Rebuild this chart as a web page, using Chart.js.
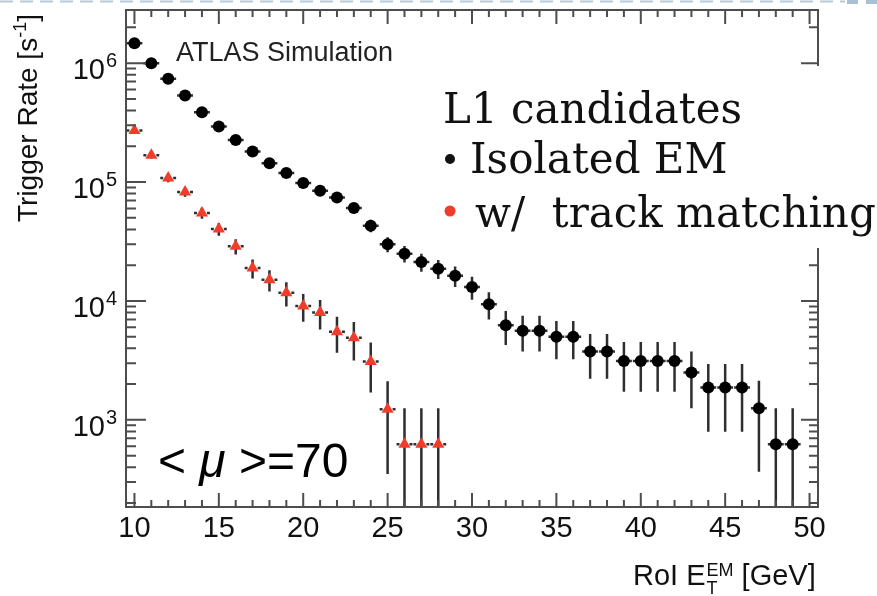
<!DOCTYPE html>
<html>
<head>
<meta charset="utf-8">
<script src="https://cdn.jsdelivr.net/npm/chart.js@4"></script>
<style>
  html, body { margin: 0; padding: 0; background: #fff; }
  canvas { display: block; }
</style>
</head>
<body>
<canvas id="chart" width="877" height="596"></canvas>
<script>
// bin centres (RoI E_T^EM, GeV)
const binCenters = [10, 11, 12, 13, 14, 15, 16, 17, 18, 19,
  20, 21, 22, 23, 24, 25, 26, 27, 28, 29,
  30, 31, 32, 33, 34, 35, 36, 37, 38, 39,
  40, 41, 42, 43, 44, 45, 46, 47, 48, 49];

// Isolated EM (black circles), rate in Hz
const isoEM = [1470000, 1000000, 740000, 535000, 387000, 293000, 226000, 181000, 144000, 119000,
  98000, 84600, 74000, 60500, 43000, 30000, 25000, 21300, 18700, 16300,
  13100, 9400, 6250, 5625, 5625, 5000, 5000, 3750, 3750, 3125,
  3125, 3125, 3125, 2500, 1875, 1875, 1875, 1250, 625, 625];
const isoEMErr = [30300, 25000, 21500, 18300, 15550, 13530, 11900, 10600, 9490, 8620,
  7830, 7270, 6800, 6150, 5180, 4330, 3950, 3650, 3420, 3190,
  2860, 2420, 1980, 1875, 1875, 1770, 1770, 1530, 1530, 1400,
  1400, 1400, 1400, 1250, 1080, 1080, 1080, 884, 625, 625];

// w/ track matching (red triangles), bins 10..28
const trackMatch = [272000, 168000, 108000, 82500, 55000, 40300, 28800, 18900, 15100, 11700,
  9080, 7980, 5520, 4900, 3090, 1230, 625, 625, 625];
const trackMatchErr = [13000, 10250, 8220, 7180, 5860, 5020, 4240, 3440, 3070, 2700,
  2380, 2230, 1860, 1750, 1390, 880, 625, 625, 625];

// axis ticks
const xMajorTicks = [10, 15, 20, 25, 30, 35, 40, 45, 50];
const yDecades = [3, 4, 5, 6];

const red = '#f03c2a';
const sans = '"Liberation Sans", Arial, sans-serif';

// error bars drawn under the markers
const errorBars = {
  id: 'errorBars',
  beforeDatasetsDraw(chart) {
    const ctx = chart.ctx, xs = chart.scales.x, ys = chart.scales.y, area = chart.chartArea;
    ctx.save();
    ctx.beginPath();
    ctx.rect(area.left, area.top, area.width, area.height);
    ctx.clip();
    ctx.strokeStyle = '#2e2e2e';
    ctx.lineWidth = 2.5;
    chart.data.datasets.forEach(ds => {
      const gap = ds.barGap;
      ds.data.forEach((p, i) => {
        const e = ds.errs[i];
        const px = xs.getPixelForValue(p.x);
        const hi = ys.getPixelForValue(p.y + e);
        const lo = p.y - e > 0 ? ys.getPixelForValue(p.y - e) : area.bottom;
        const py = ys.getPixelForValue(p.y);
        const xl = xs.getPixelForValue(p.x - 0.5);
        const xr = xs.getPixelForValue(p.x + 0.5);
        ctx.beginPath();
        ctx.moveTo(px, hi); ctx.lineTo(px, lo);
        ctx.moveTo(xl + 0.5, py); ctx.lineTo(px - gap, py);
        ctx.moveTo(px + gap, py); ctx.lineTo(xr - 0.5, py);
        ctx.stroke();
      });
    });
    ctx.restore();
  }
};

// frame, ticks, labels and the text annotations
const decor = {
  id: 'decor',
  afterDraw(chart) {
    const ctx = chart.ctx, xs = chart.scales.x, ys = chart.scales.y, a = chart.chartArea;
    ctx.save();
    ctx.strokeStyle = '#4d4d4d';
    ctx.lineWidth = 2;
    ctx.strokeRect(a.left, a.top, a.width, a.height);

    // x ticks (bottom and top)
    ctx.beginPath();
    for (let t = 10; t <= 50; t++) {
      const px = xs.getPixelForValue(t);
      const len = t % 5 === 0 ? 14 : 7;
      ctx.moveTo(px, a.bottom); ctx.lineTo(px, a.bottom - len);
      ctx.moveTo(px, a.top); ctx.lineTo(px, a.top + len);
    }
    // y ticks (left and right)
    for (let d = 2; d <= 6; d++) {
      for (let m = 1; m <= 9; m++) {
        const v = m * Math.pow(10, d);
        if (v < ys.min || v > ys.max) continue;
        const py = ys.getPixelForValue(v);
        ctx.moveTo(a.left, py); ctx.lineTo(a.left + (m === 1 ? 20 : 10), py);
        ctx.moveTo(a.right, py); ctx.lineTo(a.right - (m === 1 ? 17 : 9), py);
      }
    }
    ctx.stroke();

    // x tick labels
    ctx.fillStyle = '#111';
    ctx.font = '29px ' + sans;
    ctx.textAlign = 'center';
    ctx.textBaseline = 'alphabetic';
    xMajorTicks.forEach(t => ctx.fillText(String(t), xs.getPixelForValue(t), 537));

    // y tick labels 10^n
    yDecades.forEach(d => {
      const py = ys.getPixelForValue(Math.pow(10, d));
      ctx.font = '29px ' + sans;
      ctx.textAlign = 'right';
      ctx.fillText('10', 105, py + 16);
      ctx.font = '20px ' + sans;
      ctx.textAlign = 'left';
      ctx.fillText(String(d), 106, py + 4);
    });

    // x axis title: RoI E_T^EM [GeV]
    ctx.textAlign = 'left';
    let x = 633;
    ctx.font = '29px ' + sans;
    ctx.fillText('RoI E', x, 585);
    x += ctx.measureText('RoI E').width;
    ctx.font = '18px ' + sans;
    ctx.fillText('EM', x + 1, 576);
    ctx.fillText('T', x + 1, 594);
    x += ctx.measureText('EM').width + 1;
    ctx.font = '29px ' + sans;
    ctx.fillText(' [GeV]', x, 585);

    // y axis title (rotated)
    ctx.save();
    ctx.translate(37, 222);
    ctx.rotate(-Math.PI / 2);
    ctx.textAlign = 'left';
    ctx.font = '28px ' + sans;
    let yx = 0;
    ctx.fillText('Trigger Rate [s', yx, 0);
    yx += ctx.measureText('Trigger Rate [s').width;
    ctx.font = '18px ' + sans;
    ctx.fillText('-1', yx, -11);
    yx += ctx.measureText('-1').width;
    ctx.font = '28px ' + sans;
    ctx.fillText(']', yx, 0);
    ctx.restore();

    // ATLAS Simulation
    ctx.font = '27px ' + sans;
    ctx.fillStyle = '#222';
    ctx.fillText('ATLAS Simulation', 176, 61);

    // <mu>=70
    ctx.fillStyle = '#000';
    let mx = 158;
    ctx.font = '48px ' + sans;
    ctx.fillText('< ', mx, 477);
    mx += ctx.measureText('< ').width;
    ctx.font = 'italic 48px ' + sans;
    ctx.fillText('\u03bc', mx, 477);
    mx += ctx.measureText('\u03bc').width;
    ctx.font = '48px ' + sans;
    ctx.fillText(' >=70', mx, 477);

    // white box with the legend text
    ctx.fillStyle = '#fff';
    ctx.fillRect(436, 66, 441, 182);
    ctx.fillStyle = '#111';
    ctx.font = '42px "DejaVu Serif", serif';
    ctx.fillText('L1 candidates', 443, 123);
    ctx.fillText('Isolated EM', 470, 173);
    ctx.fillText('w/  track matching', 475, 227);
    ctx.beginPath();
    ctx.arc(450, 159, 5, 0, Math.PI * 2);
    ctx.fill();
    ctx.fillStyle = red;
    ctx.beginPath();
    ctx.arc(450, 211, 5.5, 0, Math.PI * 2);
    ctx.fill();

    // slide decoration at the very top
    ctx.strokeStyle = '#b7c8d8';
    ctx.lineWidth = 2;
    ctx.setLineDash([13, 7]);
    ctx.beginPath();
    ctx.moveTo(0, 1.5); ctx.lineTo(845, 1.5);
    ctx.stroke();
    ctx.setLineDash([]);
    ctx.fillStyle = '#a9c0d4';
    ctx.fillRect(847, 0, 11, 4);
    ctx.fillRect(866, 0, 11, 4);
    ctx.restore();
  }
};

const ctx = document.getElementById('chart').getContext('2d');
new Chart(ctx, {
  type: 'scatter',
  data: {
    datasets: [
      {
        label: 'Isolated EM',
        data: binCenters.map((x, i) => ({ x: x, y: isoEM[i] })),
        errs: isoEMErr,
        barGap: 0,
        pointStyle: 'circle',
        pointRadius: 6,
        backgroundColor: '#000',
        borderColor: '#000',
        borderWidth: 0
      },
      {
        label: 'w/ track matching',
        data: binCenters.slice(0, trackMatch.length).map((x, i) => ({ x: x, y: trackMatch[i] })),
        errs: trackMatchErr,
        barGap: 5,
        pointStyle: 'triangle',
        pointRadius: 7,
        backgroundColor: red,
        borderColor: red,
        borderWidth: 0
      }
    ]
  },
  options: {
    responsive: false,
    devicePixelRatio: 1,
    animation: false,
    layout: { padding: { left: 126, right: 59, top: 10, bottom: 89 } },
    plugins: { legend: { display: false }, tooltip: { enabled: false } },
    scales: {
      x: { type: 'linear', min: 9.5, max: 50.5, display: false },
      y: { type: 'logarithmic', min: 185, max: 2800000, display: false }
    }
  },
  plugins: [errorBars, decor]
});
</script>
</body>
</html>
